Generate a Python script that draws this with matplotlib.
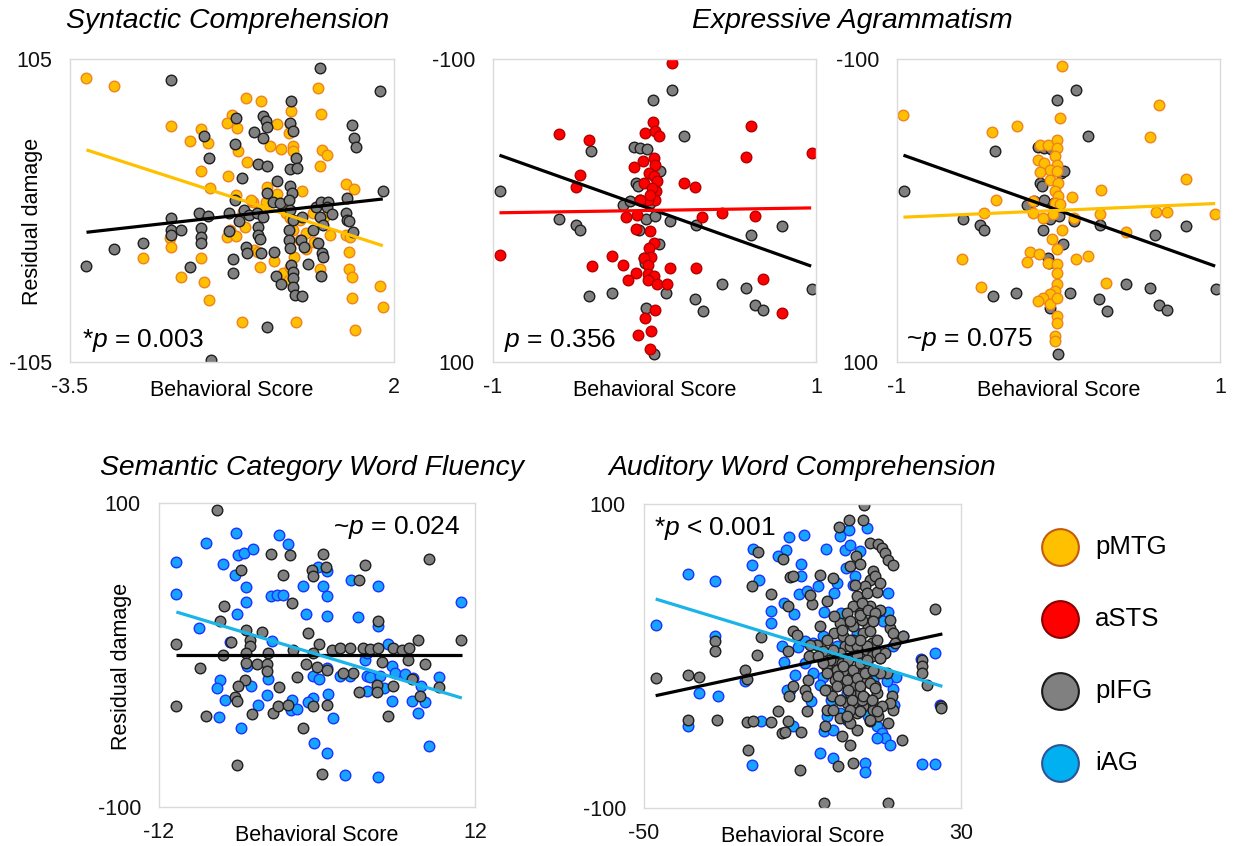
import matplotlib
matplotlib.use('Agg')
import matplotlib.pyplot as plt

plt.rcParams['font.family'] = ['Liberation Sans', 'DejaVu Sans']
plt.rcParams['mathtext.fontset'] = 'custom'
plt.rcParams['mathtext.rm'] = 'Liberation Sans'
plt.rcParams['mathtext.it'] = 'Liberation Sans:italic'

# ---------------- data ----------------
# Syntactic Comprehension
syn_pmtg_x = [-3.22, -2.75, -1.79, -0.52, -0.25, 0.71, 0.76, -0.75, -0.83, -0.66, -1.28, -1.46, -1.15, -0.64,
              -0.49, -1.28, -1.13, -0.82, -0.11, 0.08, 0.25, 0.02, 0.23, 0.21, 0.29, 0.29, 0.77, 0.86, 0.74,
              0.43, -0.15, 0.02, -0.69, -0.39, -0.18, 1.18, 1.32, -0.57, -0.28, -0.42, 0.17, 0.16, 0.23, 0.40,
              0.63, 0.81, -0.79, -0.83, -0.68, -0.53, -1.81, -1.79, -2.26, -1.27, -1.61, -1.23, -1.14, -0.28,
              -0.03, 0.31, 0.51, 0.64, 0.92, 1.18, 1.26, 1.23, 0.74, 1.23, 1.29, 1.29, -0.58, 0.33, 1.34, 1.76,
              1.82, 0.12, 0.21, -0.38, -0.31, 0.23, 0.40, 0.29, 0.51]
syn_pmtg_y = [91.8, 86.5, 58.7, 77.9, 76.1, 84.9, 66.8, 66.3, 60.6, 57.5, 56.6, 48.3, 46.7, 41.3,
              33.9, 27.7, 15.9, 24.0, 45.0, 42.7, 68.7, 59.9, 60.1, 53.6, 45.0, 40.9, 42.0, 38.8, 30.9,
              13.8, 16.6, 11.5, 10.8, 6.1, 6.1, 18.2, 14.7, -0.8, 0.4, 7.3, 1.5, -2.0, -5.4, -6.6,
              -2.0, -4.3, -13.5, -18.2, -17.7, -11.2, -19.3, -25.1, -33.2, -33.2, -46.4, -49.4, -62.1, -39.0,
              -35.1, -32.0, -27.0, -22.1, -17.0, -17.0, -18.2, -28.6, -40.8, -40.2, -45.9, -60.5, -77.4, -77.0, -82.5, -52.4,
              -67.2, -43.6, -48.3, -27.4, -28.6, -39.0, -20.5, -13.5, -15.8]
syn_pifg_x = [-1.79, 0.75, 1.76, 0.26, -0.69, -0.22, -0.18, -0.16, -0.38, -0.22, 0.23, 0.29, -1.23, -1.14,
              -0.70, -0.31, -0.16, -0.58, 0.02, 0.23, 0.33, 0.36, 0.23, -0.15, -0.05, 0.06, 0.27, 0.21, 0.23,
              -0.70, 0.29, 0.44, 0.68, 0.76, 0.88, 0.86, 0.95, 1.21, 1.81, 1.28, 1.32, 1.35, 1.18, 1.21, 1.23,
              1.31, -1.79, -1.78, -1.78, -1.61, -1.31, -1.15, -1.27, -1.28, -1.27, -0.80, -0.63, -0.80, -0.54,
              -0.46, -0.33, -0.22, -0.31, -0.31, -0.28, -0.25, -0.52, -0.50, -0.73, -0.73, -0.04, 0.00, 0.08,
              0.22, 0.22, 0.24, 0.26, 0.29, 0.29, 0.29, 0.32, 0.44, 0.42, 0.54, 0.71, 0.77, 0.79, 0.76, 0.74,
              0.80, -3.22, -2.75, -2.26, -1.46, -0.16, -1.11, 0.47, 0.63]
syn_pifg_y = [90.2, 98.5, 82.8, 75.6, 64.0, 65.2, 62.2, 57.8, 54.3, 50.1, 60.6, 54.8, 51.3, 36.2,
              46.2, 32.3, 30.5, 22.4, 20.5, 28.6, 36.7, 29.3, 17.3, 12.4, 6.1, 5.0, 11.9, 7.3, 0.4,
              7.3, -6.6, -4.7, 2.7, 6.1, 6.1, 2.7, -2.4, 8.5, 13.8, 59.4, 50.1, 43.7, -2.0, -6.6, -7.3,
              -15.1, -5.4, -13.5, -17.0, -13.5, -2.0, -3.6, -12.4, -18.6, -22.8, -2.0, -7.3, -14.0, 0.4,
              -3.1, -2.0, -4.3, -11.2, -17.0, -20.0, -29.7, -25.1, -29.7, -33.7, -43.6, -28.6, -45.2, -50.6,
              -13.5, -20.5, -26.3, -37.8, -42.5, -47.1, -53.3, -58.7, -59.4, -20.5, -37.4, -22.3, -29.7, -32.0, -45.2, -4.3,
              -10.1, -38.3, -27.0, -22.3, -39.0, -80.7, -103.8, -25.1, -13.5]
syn_fit_x = [-3.22, 1.81]
syn_fit_pmtg = [42.0, -24.4]
syn_fit_pifg = [-15.1, 8.0]

# Expressive Agrammatism (pIFG shared by both panels)
exp_pifg_x = [0.107, -0.008, 0.184, -0.392, -0.959, -0.126, -0.089, -0.047, -0.113, -0.103, 0.014, 0.031,
              -0.198, -0.150, -0.089, -0.027, -0.054, 0.004, 0.093, 0.258, -0.594, -0.485, -0.460, -0.093,
              0.025, -0.068, -0.056, 0.072, -0.408, -0.264, 0.252, 0.299, 0.415, 0.567, 0.625, 0.670, 0.790,
              0.598, 0.973, -0.054, -0.006]
exp_pifg_y = [-79.3, -73.2, -49.0, -39.1, -12.7, -41.8, -41.3, -40.7, -18.2, -16.0, -24.8, -25.9,
              -3.9, -6.1, -7.2, -5.0, 5.9, 3.7, 6.8, 9.5, 5.9, 9.7, 13.0, 13.2,
              22.0, 31.2, 34.5, 54.7, 56.5, 54.7, 58.7, 66.4, 48.8, 51.4, 62.2, 65.9, 10.3,
              16.1, 51.7, 64.6, 94.5]
exp_asts_x = [0.107, -0.592, -0.406, 0.598, 0.567, 0.973, -0.460, -0.485, 0.184, 0.252, -0.012, -0.058,
              0.000, 0.025, -0.130, -0.074, -0.006, 0.004, -0.037, -0.006, 0.014, -0.068, 0.008, 0.004,
              -0.043, -0.089, -0.959, -0.175, -0.109, -0.113, -0.027, -0.006, -0.031, -0.023, -0.068, -0.043,
              -0.264, -0.388, -0.198, -0.117, -0.165, -0.043, -0.002, -0.043, 0.014, 0.076, 0.093, 0.258,
              0.295, 0.419, 0.625, 0.670, 0.790, -0.058, 0.006, -0.023, -0.101, -0.027, -0.016, -0.027]
exp_asts_y = [-97.4, -50.3, -46.8, -55.6, -35.4, -38.0, -23.3, -15.4, -18.2, -15.6, -58.2, -51.2,
              -52.7, -49.0, -28.8, -32.5, -34.7, -30.3, -24.8, -22.6, -19.3, -18.2, -12.7, -7.2,
              -7.2, -7.2, 29.2, 4.4, 3.3, 12.1, 13.6, 21.3, 24.6, 30.8, 31.2, 36.3,
              30.1, 36.7, 36.1, 41.1, 46.2, 42.2, 43.3, 45.9, 48.8, 48.8, 37.8, 37.8,
              4.0, 1.5, 3.7, 45.5, 67.9, 71.2, 65.7, 79.6, 82.0, 91.2, -14.9, -10.5]
exp_pmtg_x = [-0.963, 0.023, 0.624, -0.409, -0.260, 0.008, 0.566, 0.789, 0.262, 0.081, -0.388, -0.461,
              -0.116, -0.068, -0.008, -0.008, -0.023, -0.126, -0.091, -0.008, -0.054, -0.116, -0.008, -0.054,
              -0.002, -0.023, -0.002, -0.023, 0.012, -0.157, -0.095, -0.033, 0.095, 0.256, 0.603, 0.673,
              0.971, 0.421, 0.023, -0.039, -0.008, -0.595, -0.178, -0.120, -0.198, -0.068, -0.008, -0.008,
              0.107, 0.184, -0.481, 0.297, -0.008, -0.023, -0.054, -0.095, -0.126, -0.054, -0.008, -0.008,
              -0.008, -0.023, -0.023, -0.157]
exp_pmtg_y = [-63.1, -95.6, -69.4, -51.6, -56.0, -61.1, -48.6, -21.1, -13.4, -9.0, -7.2, 1.5,
              -43.1, -43.1, -46.8, -41.3, -35.8, -33.6, -31.4, -30.3, -27.0, -25.3, -25.9, -20.4,
              -18.2, -12.7, -9.4, -5.0, -4.6, 1.5, 4.8, 2.6, 5.1, 2.6, 0.7, 0.7,
              2.6, 13.9, 13.0, 18.5, 25.3, 32.3, 27.3, 29.0, 34.1, 34.5, 35.6, 41.1,
              31.7, 30.1, 50.6, 47.9, 48.8, 53.2, 55.4, 57.6, 59.8, 62.0, 58.0, 69.7,
              74.1, 82.9, 86.2, -6.1]
exp_fit_x = [-0.96, 0.97]
exp_fit_pifg = [-36.5, 36.7]
exp_fit_asts = [1.5, -1.7]
exp_fit_pmtg = [4.4, -4.6]

# Semantic Category Word Fluency
sem_pifg_x = [-7.62, -3.52, -2.05, 0.43, -5.77, -2.56, -0.35, -0.28, 0.69, 3.67, 3.17, 8.53, -7.06, -1.92,
              -7.37, -5.39, -4.20, -0.68, 4.61, -10.68, -6.51, -5.09, -5.09, -5.39, -3.70, -1.80, 0.13, -0.28,
              1.12, 1.75, 2.51, 3.52, 4.03, 4.66, 5.80, 6.43, 7.02, 7.70, 10.94, -7.11, -5.39, -4.58, -3.82,
              -3.82, -0.83, -0.02, 0.79, 2.76, -1.54, 2.00, 4.94, 6.94, 8.21, -8.89, -5.49, -5.97, -2.91,
              3.22, 4.53, 4.53, 5.80, 7.24, 9.24, 7.83, -10.68, -6.20, -6.05, -8.43, -4.91, -3.37, -2.94,
              -2.18, -0.28, 0.74, -1.04, 5.42, -6.10, 0.38]
sem_pifg_y = [95.6, 66.7, 65.6, 66.7, 55.7, 52.9, 56.1, 52.2, 57.9, 59.4, 49.6, 63.4, 32.5, 34.2,
              22.1, 16.7, 14.9, 14.5, 22.1, 7.5, 8.6, 10.1, 6.1, 1.3, 1.3, 3.5, 7.2, 1.3,
              3.5, 4.6, 4.6, 4.6, 3.9, 4.6, 4.6, 3.5, 4.6, 10.1, 10.1, 0.2, -5.3, -5.7, -5.7,
              -10.7, -5.9, -7.9, -9.6, -11.8, -14.5, -11.8, -4.8, -3.5, -5.9, -8.6, -16.2, -20.6, -21.1,
              -24.3, -20.0, -24.6, -20.6, -15.8, -21.1, -26.8, -33.3, -27.6, -30.5, -40.4, -38.8, -38.2, -33.8,
              -32.7, -33.8, -32.7, -48.0, -39.9, -72.2, -78.3]
sem_iag_x = [-10.68, -10.68, -8.43, -6.13, -2.88, -2.18, -6.00, -5.52, -4.89, -7.11, -6.20, -5.37, -5.39,
             -6.05, -3.49, -3.04, -2.56, -1.04, 0.05, 0.74, 0.43, 0.74, -0.83, 0.74, 2.61, 4.61, 3.14, 4.61,
             10.94, -8.94, -6.61, -3.42, 5.42, 3.65, -5.34, -7.37, -7.62, -5.01, -3.70, -0.28, 0.13, 1.75,
             2.51, 3.77, 4.03, 4.79, 5.67, 5.93, 6.69, 7.32, 9.24, 7.88, 3.77, 5.09, -6.99, -3.82, -4.51,
             -7.42, -5.77, -1.92, -0.28, -0.71, -1.97, -1.49, 0.86, 1.24, 5.72, 7.24, 8.21, 7.70, -0.20,
             0.74, 2.15, 4.61, 8.53, 0.74, 3.77]
sem_iag_y = [61.0, 40.1, 73.7, 80.0, 79.2, 73.0, 66.0, 67.1, 69.7, 60.1, 52.9, 44.5, 34.6,
             27.0, 38.6, 39.3, 39.3, 45.2, 57.9, 55.0, 45.2, 38.6, 27.2, 25.4, 49.6, 45.2, 25.0, 19.3,
             34.6, 17.8, 8.3, 9.0, 7.5, -3.1, -7.5, -16.7, -21.7, -20.6, -15.8, -14.0, -15.8, -13.6,
             -13.6, -13.6, -14.5, -13.6, -7.5, -11.8, -12.5, -15.1, -14.5, -20.6, -23.9, -21.7, -29.8, -26.1, -33.1,
             -40.8, -48.0, -29.8, -28.3, -30.9, -36.0, -35.5, -25.4, -41.4, -30.5, -30.5, -31.1, -38.2, -57.9,
             -64.5, -79.2, -80.5, -60.1, -8.6, 1.3]
sem_fit_x = [-10.68, 11.0]
sem_fit_pifg = [0.2, 0.2]
sem_fit_iag = [28.3, -28.3]

# Auditory Word Comprehension
aud_pifg_x = [5.52, 1.65, 5.18, -0.71, -21.23, -15.01, -13.16, -5.59, -2.39, -22.75, -18.03, -13.66, -7.60,
              -3.90, 1.99, 3.50, 4.51, 7.03, 9.14, 9.98, 10.82, 11.66, 12.92, 7.87, 7.03, 5.77, 8.30, 8.88,
              3.25, 3.67, 2.83, 1.14, 4.51, 7.03, 8.55, 7.87, 6.61, 1.99, -0.54, -2.05, -5.59, -2.05, -3.90,
              -6.43, 0.30, 2.83, 5.35, 7.45, 9.56, 12.08, 12.92, 13.34, 23.44, -12.31, -11.30, -20.47, -32.17,
              -32.17, -21.57, -13.58, -24.51, -24.09, -47.06, -38.90, -36.04, -8.28, -4.74, -2.22, -1.38, 0.72,
              1.14, 2.83, 4.51, 6.19, 7.45, 8.71, -3.90, -2.64, -1.38, -0.12, 1.14, 2.41, 3.67, 5.35, 6.19,
              8.30, 11.24, -1.80, 1.14, 2.83, 4.51, 5.77, 7.45, -3.90, -2.64, -0.54, 1.14, 2.83, 5.35, 7.87,
              -8.53, -12.31, -9.37, -8.95, -13.49, -16.10, -8.95, -3.90, 12.50, 12.92, 20.07, 20.07, 20.07,
              21.33, 24.95, 24.95, -38.81, -31.49, -23.92, -22.58, -18.03, -13.58, -15.26, -14.42, -10.46,
              -4.32, -0.54, 1.14, 3.67, 7.03, 11.66, 15.02, -23.67, -0.12, 1.99, -0.96, 2.83, -10.63, -4.49,
              11.66, 12.08, -12.31, -8.11, 15.28, 1.99, 3.67, 6.19, 7.87, 1.99, 4.93, 8.71, 9.98, 9.14, 3.67,
              1.99, 9.56, 10.82, 6.19, 4.93, 9.56, 2.83, 4.93, 9.56, 12.08,
              -0.54, 1.57, 3.67, 0.30, 2.83, 4.51, 6.19, -0.96, 1.14, 3.67, 5.77, 7.87, 9.56, -1.38, 1.57,
              4.51, 7.03, 8.30, -0.54, 2.41, 5.35, 7.45, 1.99, 4.51, 8.72, -3.06, -4.74, -3.90, -2.22, 6.19,
              8.72, 7.03, 4.51, 1.99, -0.12, 1.99, 4.51, 6.61, 8.30, 7.87, -4.32, -6.00, -8.11, -2.22, 1.14,
              7.03]
aud_pifg_y = [99.5, 89.7, 89.7, 84.9, 68.4, 64.0, 52.0, 53.5, 51.3, 45.8, 41.0, 32.7, 34.2,
              36.4, 59.0, 65.6, 60.7, 74.3, 73.9, 71.1, 67.8, 63.4, 59.6, 55.7, 50.2, 45.8, 52.4, 41.9,
              46.9, 39.3, 32.7, 28.3, 28.3, 32.7, 28.3, 23.9, 19.5, 22.1, 21.7, 26.1, 19.5, 15.1, 10.7,
              7.5, 12.9, 10.7, 15.1, 8.6, -1.3, 18.4, 15.1, 8.6, 30.9, 16.2, 14.0, 12.5, 9.6,
              3.1, 0.9, 3.3, -9.0, -15.1, -14.3, -12.7, -14.0, -0.2, 3.1, -2.4, 2.0, 6.4,
              -2.4, -0.2, 2.0, 4.2, -0.2, 2.0, -7.9, -11.2, -9.0, -4.6, -11.2, -13.4, -9.0, -11.2, -15.6,
              -20.0, -11.2, -15.6, -18.9, -20.0, -24.3, -27.6, -28.7, -22.2, -26.5, -28.7, -30.9, -30.9, -33.1, -35.3,
              -15.6, -19.5, -22.2, -26.5, -26.5, -36.4, -36.4, -35.3, -26.5, -35.3, -2.4, -6.4, -11.2,
              -18.9, -33.1, -34.2, -41.9, -41.9, -43.6, -42.8, -43.6, -43.0, -50.7, -50.2, -50.2,
              -45.8, -40.8, -40.8, -48.5, -43.0, -44.1, -55.0, -61.6, -52.9, -58.3, -72.6, -70.4, -74.8, -96.7,
              -96.7, -30.9, 52.4, 40.4, 12.9, 6.4, 6.4, -4.6, -9.0, -24.3, -28.7, -24.3, -33.1, -39.7, -37.5,
              -44.1, -11.2, 2.0, 41.4, 34.9, 48.0, 19.5, 23.9, 30.5, 23.9,
              2.0, -2.4, 0.9, -6.8, -9.0, -4.6, -2.4, -13.4, -15.6, -14.5, -11.2, -9.0, -1.3, -20.0, -22.2,
              -20.0, -17.8, -21.1, -28.7, -28.7, -26.5, -28.7, -35.3, -36.4, -36.4, -2.4, -4.6, -11.2, 4.2, 6.4,
              10.7, 16.2, 10.7, 10.7, 17.3, 22.8, 27.2, 30.5, 28.3, 22.8, -22.2, -0.2, 7.5, -35.3, -39.7,
              -41.9]
aud_iag_x = [-47.06, -38.81, -32.17, -32.17, -36.04, -31.24, -38.81, -24.51, -22.75, -22.58, -20.89, -17.95,
             -17.95, -13.49, -9.62, -14.25, -16.18, -10.46, -10.46, -10.80, -8.95, -14.59, -12.06, -15.17,
             -14.67, -11.05, -9.37, -9.37, -4.16, -0.54, 1.65, 6.19, 0.72, 1.99, 4.51, 0.98, 3.25, 2.83,
             -1.38, -1.97, -6.01, -4.49, -0.29, 11.66, 11.66, 10.40, -4.74, 15.45, 12.92, -11.81, -13.16,
             -14.00, -7.94, -12.31, -3.90, -4.49, -2.22, -0.54, 1.14, 6.61, 8.71, 9.98, 10.82, 12.08, 8.71,
             -5.59, -2.22, 5.77, 5.77, -22.66, 20.07, 23.44, 23.44, 19.90, 24.70, 13.59, 12.92, 11.24, 5.35,
             7.87, 1.14, 4.51, -4.74, -7.27, -20.47, 13.17, 3.67, -7.27, -1.38, -2.89, -5.59]
aud_iag_y = [20.2, 53.7, 49.6, 12.9, -24.3, -26.1, -46.3, -16.7, 59.9, 70.4, 50.2, 29.4,
             21.7, 78.3, 79.8, 70.0, 65.6, 60.7, 52.4, 41.0, 42.5, 34.9, 27.8, 6.8,
             -4.2, 5.9, 9.6, -4.6, 70.4, 78.7, 82.7, 84.2, 70.0, 73.2, 68.9, 57.9, 52.4, 46.9,
             48.0, 41.4, 45.8, 28.7, 28.3, 41.4, 28.7, 22.8, 12.9, 12.9, 6.4, -12.3, -22.2,
             -22.2, -29.8, -46.3, -39.7, -49.1, -48.5, -37.5, -41.9, -39.7, -46.3, -50.7, -54.0, -58.3, -54.0,
             -63.8, -67.1, -70.4, -76.5, -71.5, -70.8, -70.8, 2.0, -2.0, -32.0, -13.8, -21.7, -16.7, -9.0,
             -15.6, -24.3, -20.0, -13.8, -11.2, -43.0, -32.0, 15.1, 8.6, 6.4, -28.7, -18.9]
aud_fit_x = [-47.06, 25.3]
aud_fit_pifg = [-26.1, 14.5]
aud_fit_iag = [37.5, -20.0]

legend_regions = ['pMTG', 'aSTS', 'pIFG', 'iAG']

# ---------------- style ----------------
POINT = {'pMTG': ('#ffc000', '#f0821e'), 'aSTS': ('#ff0000', '#b40000'),
         'pIFG': ('#808080', '#1e1e1e'), 'iAG': ('#18a3ff', '#1a32ff')}
LINE = {'pMTG': '#ffc000', 'aSTS': '#ff0000', 'pIFG': '#000000', 'iAG': '#1ab4e8'}
LEG = {'pMTG': ('#ffc000', '#c55a11'), 'aSTS': ('#ff0000', '#8b0000'),
       'pIFG': ('#808080', '#1a1a1a'), 'iAG': ('#00b0f0', '#2e5597')}

W, H = 1236, 846
fig = plt.figure(figsize=(W / 100, H / 100), dpi=100)


def rect(l, t, r, b):
    return [l / W, 1 - b / H, (r - l) / W, (b - t) / H]


def panel(box, xlim, ylim, xtl, ytl, series, fits, ptext, ploc, ylabel=False):
    ax = fig.add_axes(rect(*box))
    for reg, xs, ys in series:
        fc, ec = POINT[reg]
        ax.scatter(xs, ys, s=58, facecolor=fc, edgecolor=ec, linewidth=1.0, zorder=2)
    for reg, fx, fy in fits:
        ax.plot(fx, fy, color=LINE[reg], lw=2.3, zorder=3, solid_capstyle='butt')
    ax.set_xlim(*xlim)
    ax.set_ylim(*ylim)
    ax.set_xticks(list(xlim))
    ax.set_xticklabels(xtl)
    ax.set_yticks(list(ylim))
    ax.set_yticklabels(ytl)
    ax.tick_params(length=0, labelsize=15.5, colors='#111111')
    ax.tick_params(axis='x', pad=11)
    ax.tick_params(axis='y', pad=13)
    for sp in ax.spines.values():
        sp.set_color('#dadada')
        sp.set_linewidth(1.0)
    ax.annotate('Behavioral Score', xy=(0.5, 0), xycoords='axes fraction', xytext=(0, -34),
                textcoords='offset pixels', ha='center', va='baseline', fontsize=15.5)
    if ylabel:
        ax.annotate('Residual damage', xy=(0, 0.5), xycoords='axes fraction', xytext=(-37, -11),
                    textcoords='offset pixels', ha='center', va='center', rotation=90, fontsize=15.5)
    (fx, fy, dx, dy, ha) = ploc
    ax.annotate(ptext, xy=(fx, fy), xycoords='axes fraction', xytext=(dx, dy),
                textcoords='offset pixels', ha=ha, va='baseline', fontsize=19)
    return ax


panel((70, 59, 394, 362), (-3.5, 2), (-105, 105), ['-3.5', '2'], ['-105', '105'],
      [('pMTG', syn_pmtg_x, syn_pmtg_y), ('pIFG', syn_pifg_x, syn_pifg_y)],
      [('pMTG', syn_fit_x, syn_fit_pmtg), ('pIFG', syn_fit_x, syn_fit_pifg)],
      '*$p$ = 0.003', (0, 0, 12, 15, 'left'), ylabel=True)

panel((493, 59, 816, 362), (-1, 1), (100, -100), ['-1', '1'], ['100', '-100'],
      [('pIFG', exp_pifg_x, exp_pifg_y), ('aSTS', exp_asts_x, exp_asts_y)],
      [('pIFG', exp_fit_x, exp_fit_pifg), ('aSTS', exp_fit_x, exp_fit_asts)],
      '$p$ = 0.356', (0, 0, 11, 15, 'left'))

panel((897, 59, 1220, 362), (-1, 1), (100, -100), ['-1', '1'], ['100', '-100'],
      [('pIFG', exp_pifg_x, exp_pifg_y), ('pMTG', exp_pmtg_x, exp_pmtg_y)],
      [('pIFG', exp_fit_x, exp_fit_pifg), ('pMTG', exp_fit_x, exp_fit_pmtg)],
      '~$p$ = 0.075', (0, 0, 9, 16, 'left'))

panel((159, 503, 475, 807), (-12, 12), (-100, 100), ['-12', '12'], ['-100', '100'],
      [('iAG', sem_iag_x, sem_iag_y), ('pIFG', sem_pifg_x, sem_pifg_y)],
      [('pIFG', sem_fit_x, sem_fit_pifg), ('iAG', sem_fit_x, sem_fit_iag)],
      '~$p$ = 0.024', (1, 1, -15, -31, 'right'), ylabel=True)

panel((644, 504, 961, 808), (-50, 30), (-100, 100), ['-50', '30'], ['-100', '100'],
      [('iAG', aud_iag_x, aud_iag_y), ('pIFG', aud_pifg_x, aud_pifg_y)],
      [('pIFG', aud_fit_x, aud_fit_pifg), ('iAG', aud_fit_x, aud_fit_iag)],
      '*$p$ < 0.001', (0, 1, 10, -31, 'left'))

# titles
for txt, x, y in [('Syntactic Comprehension', 228, 28), ('Expressive Agrammatism', 852, 28),
                  ('Semantic Category Word Fluency', 312, 475), ('Auditory Word Comprehension', 802, 475)]:
    fig.text(x / W, 1 - y / H, txt, ha='center', va='baseline', fontsize=20.4, style='italic')

# legend
lax = fig.add_axes(rect(1040, 511, 1236, 799))
lax.set_xlim(0, 196)
lax.set_ylim(-3.5, 0.5)
lax.axis('off')
for i, reg in enumerate(legend_regions):
    fc, ec = LEG[reg]
    lax.scatter([20], [-i], s=700, facecolor=fc, edgecolor=ec, linewidth=1.5, clip_on=False)
    lax.text(55, -i, reg, ha='left', va='center', fontsize=18.5)

fig.savefig('out.png', dpi=100)
